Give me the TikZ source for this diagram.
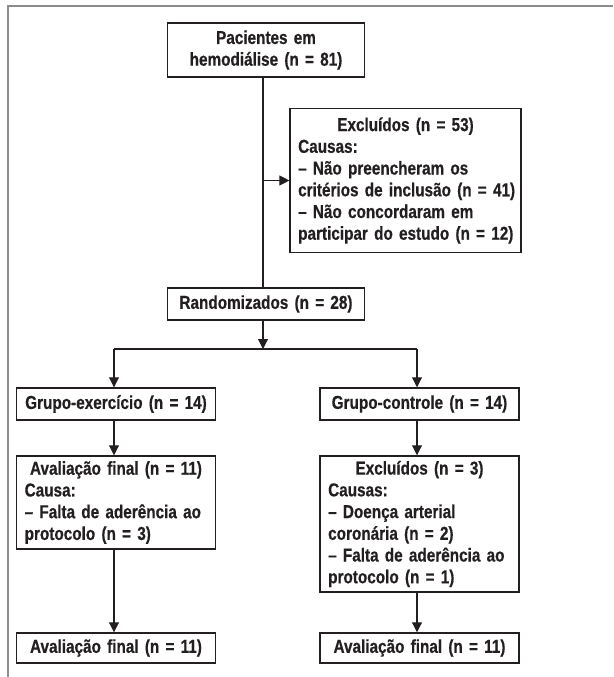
\documentclass[tikz,border=0pt]{standalone}
\usepackage{fontspec}
\setmainfont{Liberation Sans}[FakeStretch=0.82, BoldFeatures={FakeBold=0.5}]
\usetikzlibrary{arrows.meta}
\definecolor{ink}{RGB}{35,31,32}

\begin{document}
\begin{tikzpicture}[x=0.75pt,y=-0.75pt,
    box/.style={draw=ink, text=ink, line width=1.1pt, inner xsep=6pt, inner ysep=0pt,
      text width=#1, align=center, font=\bfseries\fontsize{14pt}{16.3pt}\selectfont},
    lbox/.style={box=#1, align=left},
    arr/.style={-{Triangle[length=7.5pt,width=7.5pt]}},
    link/.style={line width=0.8pt, draw=ink}]
    \useasboundingbox (0,0) rectangle (613,677);
    \draw[black!45, line width=1pt] (8,677) -- (8,6) -- (613,6);

    % top of the chart
    \node[box=136pt, minimum height=40.5pt] (pac) at (266,50) {Pacientes em\\hemodiálise (n = 81)};
    \node[lbox=161pt, minimum height=108pt] (exc) at (405.5,180.5) {\makebox[\linewidth]{Excluídos (n = 53)}\\Causas:\\\mbox{– Não preencheram os}\\\mbox{critérios de inclusão (n = 41)}\\\mbox{– Não concordaram em}\\\mbox{participar do estudo (n = 12)}};
    \node[box=136pt, minimum height=24pt] (rand) at (266,304) {Randomizados (n = 28)};

    % the two groups
    \node[box=137pt, minimum height=24pt] (gex) at (116,404) {Grupo-exercício (n = 14)};
    \node[box=137pt, minimum height=24pt] (gco) at (419.5,404) {Grupo-controle (n = 14)};
    \node[lbox=137pt, minimum height=69.75pt] (avl) at (116,502.5) {\makebox[\linewidth]{Avaliação final (n = 11)}\\Causa:\\\mbox{– Falta de aderência ao}\\protocolo (n = 3)};
    \node[lbox=137pt, minimum height=102pt] (exc2) at (419.5,524) {\makebox[\linewidth]{Excluídos (n = 3)}\\Causas:\\– Doença arterial\\coronária (n = 2)\\\mbox{– Falta de aderência ao}\\protocolo (n = 1)};
    \node[box=137pt, minimum height=22.5pt] (fin1) at (116,648) {Avaliação final (n = 11)};
    \node[box=137pt, minimum height=22.5pt] (fin2) at (419.5,648) {Avaliação final (n = 11)};

    \coordinate (split) at (263,349);
    \draw[link] (pac.south -| split) -- (rand.north -| split);
    \draw[link, arr] (split |- exc.west) -- (exc.west);
    \draw[link, arr] (rand.south -| split) -- (split);
    \draw[link] (114,349) -- (417,349);
    \draw[link, arr] (114,349) -- (gex.north -| 114,0);
    \draw[link, arr] (417,349) -- (gco.north -| 417,0);
    \draw[link, arr] (gex.south -| 114,0) -- (avl.north -| 114,0);
    \draw[link, arr] (gco.south -| 417,0) -- (exc2.north -| 417,0);
    \draw[link, arr] (avl.south -| 114,0) -- (fin1.north -| 114,0);
    \draw[link, arr] (exc2.south -| 417,0) -- (fin2.north -| 417,0);
\end{tikzpicture}
\end{document}
